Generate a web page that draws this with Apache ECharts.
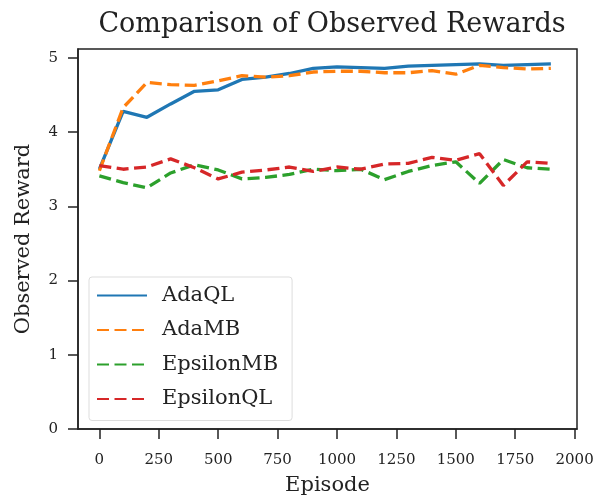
<!DOCTYPE html>
<html>
<head>
<meta charset="utf-8">
<script src="https://cdn.jsdelivr.net/npm/echarts@6/dist/echarts.min.js"></script>
<style>
  html, body { margin: 0; padding: 0; background: #ffffff; }
  #chart { width: 598px; height: 503px; }
</style>
</head>
<body>
<div id="chart"></div>
<script>
// episodes and rewards
const episodes = [0, 100, 200, 300, 400, 500, 600, 700, 800, 900, 1000, 1100, 1200, 1300, 1400, 1500, 1600, 1700, 1800, 1900];
const adaQL = [3.50, 4.28, 4.20, 4.38, 4.55, 4.57, 4.71, 4.74, 4.79, 4.86, 4.88, 4.87, 4.86, 4.89, 4.90, 4.91, 4.92, 4.90, 4.91, 4.92];
const adaMB = [3.48, 4.33, 4.67, 4.64, 4.63, 4.69, 4.76, 4.74, 4.76, 4.81, 4.82, 4.82, 4.80, 4.80, 4.83, 4.78, 4.90, 4.87, 4.85, 4.86];
const epsilonMB = [3.41, 3.32, 3.25, 3.45, 3.56, 3.49, 3.37, 3.39, 3.43, 3.50, 3.48, 3.50, 3.36, 3.47, 3.55, 3.60, 3.31, 3.63, 3.52, 3.50];
const epsilonQL = [3.55, 3.50, 3.53, 3.64, 3.52, 3.37, 3.46, 3.49, 3.53, 3.47, 3.53, 3.50, 3.57, 3.58, 3.66, 3.62, 3.71, 3.28, 3.60, 3.58];

const xTicks = [0, 250, 500, 750, 1000, 1250, 1500, 1750, 2000];
const yTicks = [0, 1, 2, 3, 4, 5];

const serif = "DejaVu Serif";
const pair = ys => episodes.map((x, i) => [x, ys[i]]);

const makeLine = (name, ys, color, dashed) => ({
  name,
  type: "line",
  data: pair(ys),
  symbol: "none",
  smooth: false,
  lineStyle: {
    color,
    width: 3.3,
    type: dashed ? [12, 5.5] : "solid"
  },
  itemStyle: { color }
});

const chart = echarts.init(document.getElementById("chart"));
chart.setOption({
  animation: false,
  backgroundColor: "#ffffff",
  title: {
    text: "Comparison of Observed Rewards",
    left: 327,
    top: 6,
    textAlign: "center",
    textStyle: { fontFamily: serif, fontSize: 27, fontWeight: "normal", color: "#222" }
  },
  grid: {
    left: 78,
    right: 21,
    top: 49,
    bottom: 74,
    show: true,
    borderColor: "#222",
    borderWidth: 1.5
  },
  legend: {
    orient: "vertical",
    left: 89,
    top: 277,
    padding: [8, 14, 11, 7],
    itemWidth: 50,
    itemHeight: 20,
    itemGap: 13.5,
    backgroundColor: "#ffffff",
    borderColor: "#dddddd",
    borderWidth: 1,
    borderRadius: 3,
    itemStyle: { opacity: 0 },
    textStyle: { fontFamily: serif, fontSize: 21, color: "#222", padding: [0, 0, 0, 10] },
    data: ["AdaQL", "AdaMB", "EpsilonMB", "EpsilonQL"]
  },
  xAxis: {
    type: "value",
    min: -90,
    max: 2010,
    name: "Episode",
    nameLocation: "middle",
    nameGap: 46,
    nameTextStyle: { fontFamily: serif, fontSize: 21, color: "#222" },
    splitLine: { show: false },
    axisLine: { show: true, onZero: false, lineStyle: { color: "#222", width: 1.5 } },
    axisTick: { show: true, inside: false, length: 10, customValues: xTicks, lineStyle: { color: "#222", width: 1.5 } },
    axisLabel: { customValues: xTicks, margin: 24, fontFamily: serif, fontSize: 15, color: "#222", formatter: v => String(v) }
  },
  yAxis: {
    type: "value",
    min: 0,
    max: 5.12,
    name: "Observed Reward",
    nameLocation: "middle",
    nameGap: 44,
    nameTextStyle: { fontFamily: serif, fontSize: 21, color: "#222" },
    splitLine: { show: false },
    axisLine: { show: true, onZero: false, lineStyle: { color: "#222", width: 1.5 } },
    axisTick: { show: true, inside: false, length: 10, customValues: yTicks, lineStyle: { color: "#222", width: 1.5 } },
    axisLabel: { customValues: yTicks, margin: 20, fontFamily: serif, fontSize: 15, color: "#222" }
  },
  series: [
    makeLine("AdaQL", adaQL, "#1f77b4", false),
    makeLine("AdaMB", adaMB, "#ff7f0e", true),
    makeLine("EpsilonMB", epsilonMB, "#2ca02c", true),
    makeLine("EpsilonQL", epsilonQL, "#d62728", true)
  ]
});
</script>
</body>
</html>
